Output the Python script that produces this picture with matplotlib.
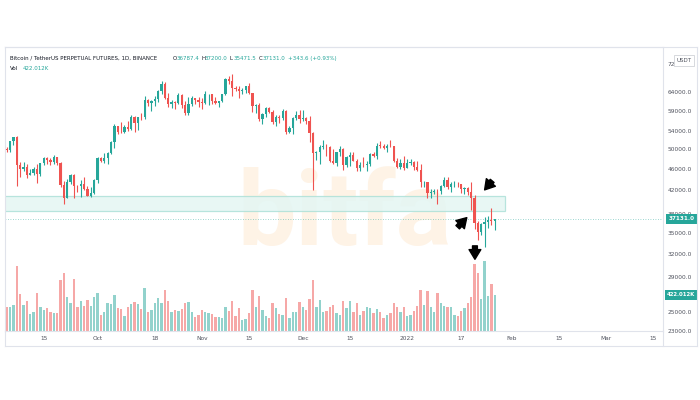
import matplotlib
matplotlib.use('Agg')
import matplotlib.pyplot as plt
import matplotlib.dates as mdates
import matplotlib.transforms as mtransforms
from matplotlib.patches import Rectangle
from matplotlib.lines import Line2D
import numpy as np
import pandas as pd

plt.rcParams['font.family'] = ['DejaVu Sans']

# ---- data (BTCUSDT perpetual, daily) ----
start_date = '2021-09-04'
first_open = 50000.0
closes = [49900, 51750, 52650, 46850, 46050, 46400, 44850, 45150, 46050, 44950,
          47100, 48150, 47750, 47300, 48300, 47250, 43000, 40700, 43550, 44900,
          42800, 42700, 43200, 42200, 41050, 41550, 43800,
          48150, 47650, 48250, 49250, 51500, 55350, 53800, 53750, 54950, 54650,
          57500, 56000, 57400, 57350, 61700, 60900, 61550, 62050, 64300, 66000,
          62200, 60700, 61300, 60850, 63100, 60350, 58450, 60600, 62250, 61850, 61300,
          61000, 63250, 63300, 61450, 61000, 61500, 63300, 67550, 66950, 64900,
          64800, 64150, 64400, 65500, 63600, 60100, 60350, 56900, 58100, 59750,
          58700, 56300, 57550, 57150, 58950, 53750, 54750, 57300, 57800, 56950,
          57200, 56500, 53600, 49150, 49400, 50550, 50600, 50450, 47550, 47150,
          49400, 50100, 46700, 48350, 48900, 47650, 46200, 46850, 46700, 46900,
          49000, 48600, 50800, 50750, 50400, 50800, 50650, 47550, 46450, 47100, 46200,
          47200, 47400, 46450, 45850, 43450, 43550, 41550, 41700, 41850, 41800,
          42750, 43900, 42600, 43100, 43200, 43100, 42200, 42400, 41700, 40700,
          36450, 35050, 36300, 36650, 36950, 36787.4, 37131.0]
highs = [50550, 51900, 52800, 52900, 47350, 47350, 47000, 45950, 46450, 46900,
         47250, 48450, 48500, 48150, 48800, 48350, 47350, 43600, 44000, 45000,
         45100, 42950, 43900, 44350, 42800, 42600, 44100,
         48500, 48350, 49250, 49500, 51900, 55750, 55350, 56100, 55500, 56550,
         57800, 57700, 57500, 58500, 62900, 62000, 61700, 62700, 64500, 67000,
         66650, 63750, 61750, 61500, 63700, 63300, 61500, 62500, 62950, 62350, 62450,
         62400, 64300, 63500, 63500, 62600, 61550, 63300, 67800, 68550, 69000,
         65600, 65450, 64950, 65550, 66400, 63600, 60800, 60950, 58350, 59850,
         60000, 59250, 58000, 57800, 59400, 59150, 55300, 57450, 58850, 59200,
         59050, 57400, 57600, 53900, 49700, 51000, 51950, 51150, 50800, 50100,
         49500, 50750, 50300, 48650, 49500, 49450, 48000, 47350, 48300, 47550,
         49300, 49550, 51350, 51850, 51150, 51250, 52050, 50700, 48100, 47900, 48550,
         47900, 47950, 47550, 47500, 47050, 43750, 43150, 42300, 42150, 42250,
         43000, 44350, 44450, 43450, 43750, 43450, 43200, 42650, 42600, 43450,
         41100, 36850, 36550, 37500, 37550, 38950, 37200.0]
lows = [49500, 49500, 50950, 42800, 44400, 45500, 44150, 44750, 44750, 43350,
        44700, 46700, 47050, 46750, 47050, 46850, 42500, 39600, 40550, 43100,
        40700, 41700, 40800, 42100, 40900, 40750, 41400,
        43300, 47400, 47150, 46900, 49050, 50400, 53400, 53600, 53700, 54100,
        54400, 53900, 54250, 56800, 56850, 60100, 58950, 60100, 61350, 63500,
        62000, 60000, 59700, 59500, 60650, 59800, 58000, 57850, 60200, 60750, 59900,
        59450, 60650, 60400, 60700, 60750, 60050, 61350, 63150, 66250, 62800,
        64150, 62300, 63400, 63600, 63400, 58600, 58400, 56500, 55650, 57400,
        58500, 55650, 55300, 55950, 56700, 53500, 53650, 53300, 56750, 55900,
        56450, 55850, 51700, 42000, 47750, 47050, 50100, 48600, 47350, 46900,
        46650, 48650, 45700, 46300, 46550, 47500, 45500, 45550, 46400, 45550,
        46650, 48450, 48050, 50400, 50150, 49500, 50450, 47300, 46150, 45900, 45700,
        46200, 46850, 45750, 45500, 42600, 42500, 40650, 40550, 41250, 39650,
        41300, 42500, 42300, 41750, 42600, 42600, 41550, 41300, 41100, 38550,
        35500, 34000, 34650, 32900, 35700, 36250, 35471.5]
volumes_k = [277, 285, 301, 762, 434, 305, 348, 195, 223, 449, 285, 242, 266, 227, 211,
             215, 598, 684, 399, 332, 610, 281, 356, 289, 359, 297, 395, 449, 188, 219,
             324, 313, 418, 266, 258, 176, 285,
             313, 344, 320, 258, 500, 219, 242, 332, 383, 328, 481, 356, 223, 250, 238,
             258, 324, 336, 219, 160, 188, 250, 219, 211, 195, 160, 160, 148, 277, 231,
             352, 180, 270, 129, 145, 207, 481,
             285, 410, 246, 176, 148, 324, 270, 195, 188, 383, 156, 219, 219, 344, 277,
             246, 371, 598, 285, 359, 223, 238, 277, 305, 207, 184, 352, 270, 348, 219,
             324, 191, 238, 277, 266, 211, 258,
             219, 148, 188, 215, 332, 277, 227, 285, 180, 184, 238, 293, 485, 301, 473,
             281, 223, 449, 324, 293, 285, 277, 184, 180, 234, 270, 332, 402, 785, 676,
             375, 821, 410, 555, 422.012]

tick_dates = ['2021-09-15', '2021-10-01', '2021-10-18', '2021-11-01', '2021-11-15',
              '2021-12-01', '2021-12-15', '2022-01-01', '2022-01-17', '2022-02-01',
              '2022-02-15', '2022-03-01', '2022-03-15']
tick_labels = ['15', 'Oct', '18', 'Nov', '15', 'Dec', '15', '2022', '17', 'Feb',
               '15', 'Mar', '15']
price_ticks = [72000, 64000, 59000, 54000, 50000, 46000, 42000, 38000, 35000,
               32000, 29000, 25000, 23000]

last_price = 37131.0
last_volume_k = 422.012
# support zone drawn on the chart
zone_start, zone_end = '2021-09-03', '2022-01-30'
zone_low, zone_high = 38370, 40900
# hand-drawn arrows: (tail date, tail price, head date, head price)
arrows = [('2022-01-26 06:00', 43700, '2022-01-24 00:00', 42050),
          ('2022-01-16 00:00', 35850, '2022-01-18 17:00', 37350),
          ('2022-01-21 03:00', 33100, '2022-01-21 03:00', 31250)]

up_col = '#26a69a'
dn_col = '#ef5350'
txt_col = '#50535e'
line_col = '#e0e3eb'

dates = pd.date_range(start_date, periods=len(closes), freq='D')
x = mdates.date2num(dates)
closes = np.array(closes, dtype=float)
opens = np.concatenate([[first_open], closes[:-1]])
highs = np.array(highs, dtype=float)
lows = np.array(lows, dtype=float)
vols = np.array(volumes_k, dtype=float)
up = closes >= opens
colors = np.where(up, up_col, dn_col)

fig = plt.figure(figsize=(7, 4), dpi=100)
fig.patch.set_facecolor('white')
ax = fig.add_axes([5/700, 69/400, 658/700, 284/400])
axv = ax.twinx()
ax.set_zorder(axv.get_zorder() + 1)
ax.patch.set_visible(False)

# watermark
axv.text(232/658, 1 - (245 - 47)/284, 'bitfa', transform=axv.transAxes,
         fontsize=75, fontweight='bold', family='Roboto', color='#fef3e6',
         ha='left', va='baseline', zorder=0)

# volume
axv.bar(x, vols, width=0.7, color=colors, alpha=0.5, linewidth=0, zorder=2)
vol_top = last_volume_k * 284 / 36
axv.set_ylim(0, vol_top)
axv.set_yticks([])
for s in axv.spines.values():
    s.set_visible(False)

# candles
ax.vlines(x, lows, highs, colors=colors, linewidth=0.8, zorder=3)
body_lo = np.minimum(opens, closes)
body_h = np.maximum(np.abs(closes - opens), body_lo * 0.002)
ax.bar(x, body_h, bottom=body_lo, width=0.68, color=colors, linewidth=0, zorder=4)

ax.set_yscale('log')
ax.set_ylim(23016, 77470)
ax.set_xlim(x[0] - 0.5, x[0] + 195)

# zone
zx0 = mdates.date2num(pd.Timestamp(zone_start))
zx1 = mdates.date2num(pd.Timestamp(zone_end))
ax.add_patch(Rectangle((zx0, zone_low), zx1 - zx0, zone_high - zone_low,
                       facecolor='#e4f6f3', edgecolor='#ade1d8', linewidth=0.9,
                       alpha=0.85, zorder=2))

# last price line
ax.axhline(last_price, color=up_col, linewidth=0.6, linestyle=(0, (1, 2)),
           alpha=0.6, zorder=2)

# arrows
for t0, p0, t1, p1 in arrows:
    ax.annotate('', xy=(mdates.date2num(pd.Timestamp(t1)), p1),
                xytext=(mdates.date2num(pd.Timestamp(t0)), p0),
                arrowprops=dict(arrowstyle='simple,head_length=0.7,head_width=0.85,tail_width=0.35',
                                color='black', mutation_scale=10, shrinkA=0, shrinkB=0),
                zorder=6)

# axes styling
ax.set_xticks(mdates.date2num(pd.to_datetime(tick_dates)))
ax.set_xticklabels(tick_labels)
ax.tick_params(axis='x', length=0, pad=3.5, labelsize=4.2, labelcolor=txt_col)
ax.yaxis.tick_right()
ax.yaxis.set_minor_locator(matplotlib.ticker.NullLocator())
ax.set_yticks(price_ticks)
ax.set_yticklabels(['%.1f' % p for p in price_ticks])
ax.tick_params(axis='y', length=0, pad=3.6, labelsize=4.2, labelcolor=txt_col)
for s in ax.spines.values():
    s.set_color(line_col)
    s.set_linewidth(0.8)

# right-side price / volume labels
tr_p = mtransforms.blended_transform_factory(ax.transAxes, ax.transData)
ax.text(1.008, last_price, '%.1f' % last_price, transform=tr_p, fontsize=4.1,
        color='white', fontweight='bold', ha='left', va='center', zorder=10,
        bbox=dict(boxstyle='square,pad=0.45', fc=up_col, ec='none'), clip_on=False)
tr_v = mtransforms.blended_transform_factory(ax.transAxes, axv.transData)
ax.text(1.006, last_volume_k, '%.3fK' % last_volume_k, transform=tr_v, fontsize=3.9,
        color='white', fontweight='bold', ha='left', va='center', zorder=10,
        bbox=dict(boxstyle='square,pad=0.4', fc=up_col, ec='none'), clip_on=False)
fig.text(684/700, 1 - 60.5/400, 'USDT', fontsize=4.0, color=txt_col, ha='center',
         va='center', zorder=20,
         bbox=dict(boxstyle='square,pad=0.5', fc='white', ec='#c8cad0', lw=0.5))

# outer frame of the widget
for (x0, y0, x1, y1) in [(5, 47, 697, 47), (5, 346, 697, 346), (697, 47, 697, 346),
                         (663, 331, 663, 346), (5, 331, 5, 346)]:
    fig.add_artist(Line2D([x0/700, x1/700], [1 - y0/400, 1 - y1/400],
                          color=line_col, linewidth=0.8, transform=fig.transFigure))

# header legend
hy = 1 - 58.3/400
fig.text(10/700, hy, 'Bitcoin / TetherUS PERPETUAL FUTURES, 1D, BINANCE',
         fontsize=4.0, color='#131722', va='center')
ohlc = [('O', '%.1f' % opens[-1], 173), ('H', '%.1f' % highs[-1], 201),
        ('L', '%.1f' % lows[-1], 230), ('C', '%.1f' % closes[-1], 259)]
for letter, val, px in ohlc:
    fig.text(px/700, hy, letter, fontsize=4.0, color='#131722', va='center')
    fig.text((px + 3.4)/700, hy, val, fontsize=4.0, color=up_col, va='center')
chg = closes[-1] - opens[-1]
fig.text(288/700, hy, '+%.1f (+%.2f%%)' % (chg, chg / opens[-1] * 100),
         fontsize=4.0, color=up_col, va='center')
vy = 1 - 68.3/400
fig.text(10/700, vy, 'Vol', fontsize=4.0, color='#131722', va='center')
fig.text(23/700, vy, '%.3fK' % last_volume_k, fontsize=4.0, color=up_col, va='center')

fig.savefig('out.png', dpi=100)
plt.close(fig)
